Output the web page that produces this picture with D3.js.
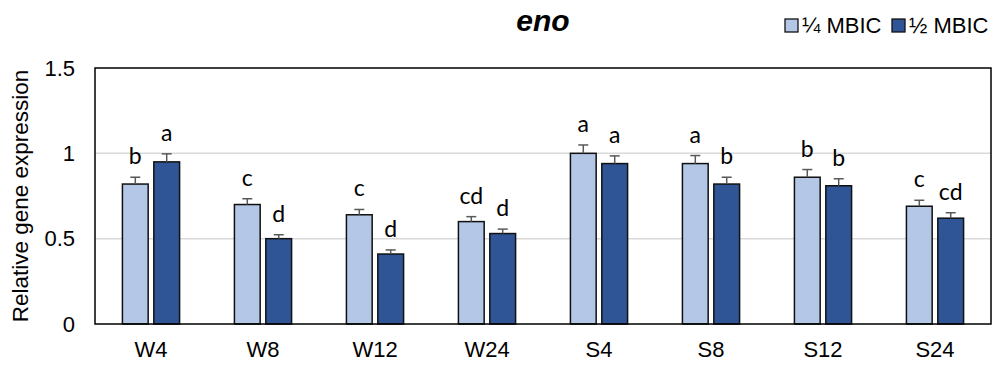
<!DOCTYPE html>
<html>
<head>
<meta charset="utf-8">
<script src="https://cdn.jsdelivr.net/npm/d3@7"></script>
<style>
  html, body { margin: 0; padding: 0; background: #fff; }
  svg { display: block; }
</style>
</head>
<body>
<svg id="chart" width="997" height="365"></svg>
<script>
// Sample groups along the x axis
const categories = ["W4", "W8", "W12", "W24", "S4", "S8", "S12", "S24"];
const seriesNames = ["¼ MBIC", "½ MBIC"];

// Mean relative expression and error for each treatment
const quarterValues = [0.82, 0.70, 0.64, 0.60, 1.00, 0.94, 0.86, 0.69];
const quarterErrors = [0.04, 0.034, 0.031, 0.029, 0.049, 0.047, 0.045, 0.035];
const halfValues = [0.95, 0.50, 0.41, 0.53, 0.94, 0.82, 0.81, 0.62];
const halfErrors = [0.047, 0.023, 0.024, 0.026, 0.045, 0.04, 0.041, 0.032];

// Significance letters
const quarterLetters = ["b", "c", "c", "cd", "a", "a", "b", "c"];
const halfLetters = ["a", "d", "d", "d", "a", "b", "b", "cd"];

const yTicks = [0, 0.5, 1, 1.5];
const yTickLabels = ["0", "0.5", "1", "1.5"];

const colors = ["#b4c7e7", "#2f5597"];

const svg = d3.select("#chart");
const margin = { left: 95, right: 6, top: 68, bottom: 41 };
const W = 997, H = 365;
const plotLeft = margin.left, plotRight = W - margin.right;
const plotTop = margin.top, plotBottom = H - margin.bottom;

const x0 = d3.scaleBand().domain(categories).range([plotLeft, plotRight]);
const x1 = d3.scaleBand().domain(seriesNames).range([0, x0.bandwidth()])
  .paddingInner(0.18).paddingOuter(0.873);
const y = d3.scaleLinear().domain([0, 1.5]).range([plotBottom, plotTop]);

const table = categories.map((c, i) => ({
  cat: c,
  bars: [
    { s: seriesNames[0], v: quarterValues[i], e: quarterErrors[i], l: quarterLetters[i], k: 0 },
    { s: seriesNames[1], v: halfValues[i], e: halfErrors[i], l: halfLetters[i], k: 1 }
  ]
}));

// Gridlines
svg.append("g")
  .selectAll("line")
  .data(yTicks.filter(t => t > 0 && t < 1.5))
  .join("line")
  .attr("x1", plotLeft).attr("x2", plotRight)
  .attr("y1", d => y(d)).attr("y2", d => y(d))
  .attr("stroke", "#d9d9d9").attr("stroke-width", 1.5);

// Y axis tick labels
const yAxis = d3.axisLeft(y).tickValues(yTicks)
  .tickFormat((d, i) => yTickLabels[i]).tickSize(0).tickPadding(20);
svg.append("g")
  .attr("transform", `translate(${plotLeft},0)`)
  .call(yAxis)
  .call(g => g.select(".domain").remove())
  .selectAll("text")
  .attr("font-family", "Liberation Sans, Arial, sans-serif")
  .attr("font-size", 22)
  .attr("fill", "#000");

// X axis category labels
const xAxis = d3.axisBottom(x0).tickSize(0).tickPadding(17);
svg.append("g")
  .attr("transform", `translate(0,${plotBottom})`)
  .call(xAxis)
  .call(g => g.select(".domain").remove())
  .selectAll("text")
  .attr("font-family", "Liberation Sans, Arial, sans-serif")
  .attr("font-size", 22)
  .attr("fill", "#000");

// Bars
const groups = svg.append("g")
  .selectAll("g")
  .data(table)
  .join("g")
  .attr("transform", d => `translate(${x0(d.cat)},0)`);

groups.selectAll("rect")
  .data(d => d.bars)
  .join("rect")
  .attr("x", d => x1(d.s))
  .attr("width", x1.bandwidth())
  .attr("y", d => y(d.v))
  .attr("height", d => y(0) - y(d.v))
  .attr("fill", d => colors[d.k])
  .attr("stroke", "#111")
  .attr("stroke-width", 1.5);

// Error bars
const errG = groups.selectAll("g.err")
  .data(d => d.bars)
  .join("g").attr("class", "err");
errG.append("line")
  .attr("x1", d => x1(d.s) + x1.bandwidth() / 2)
  .attr("x2", d => x1(d.s) + x1.bandwidth() / 2)
  .attr("y1", d => y(d.v))
  .attr("y2", d => y(d.v + d.e))
  .attr("stroke", "#595959").attr("stroke-width", 1.5);
errG.append("line")
  .attr("x1", d => x1(d.s) + x1.bandwidth() / 2 - 5)
  .attr("x2", d => x1(d.s) + x1.bandwidth() / 2 + 5)
  .attr("y1", d => y(d.v + d.e))
  .attr("y2", d => y(d.v + d.e))
  .attr("stroke", "#595959").attr("stroke-width", 1.5);

// Significance letters
groups.selectAll("text.sig")
  .data(d => d.bars)
  .join("text").attr("class", "sig")
  .attr("x", d => x1(d.s) + x1.bandwidth() / 2)
  .attr("y", d => y(d.v + d.e) - 13)
  .attr("text-anchor", "middle")
  .attr("font-family", "Lato, 'Open Sans', sans-serif")
  .attr("font-size", 23)
  .attr("fill", "#000")
  .text(d => d.l);

// Plot frame
svg.append("rect")
  .attr("x", plotLeft).attr("y", plotTop)
  .attr("width", plotRight - plotLeft).attr("height", plotBottom - plotTop)
  .attr("fill", "none").attr("stroke", "#000").attr("stroke-width", 1.5);

// Y axis title
svg.append("text")
  .attr("transform", `translate(28,${(plotTop + plotBottom) / 2}) rotate(-90)`)
  .attr("text-anchor", "middle")
  .attr("font-family", "Liberation Sans, Arial, sans-serif")
  .attr("font-size", 22.5)
  .attr("fill", "#000")
  .text("Relative gene expression");

// Title
svg.append("text")
  .attr("x", 543).attr("y", 31)
  .attr("text-anchor", "middle")
  .attr("font-family", "Liberation Sans, Arial, sans-serif")
  .attr("font-size", 30)
  .attr("font-weight", "bold")
  .attr("font-style", "italic")
  .attr("fill", "#000")
  .text("eno");

// Legend
const legend = svg.append("g");
const legendX = [785, 892];
seriesNames.forEach((name, i) => {
  legend.append("rect")
    .attr("x", legendX[i]).attr("y", 19)
    .attr("width", 13).attr("height", 13)
    .attr("fill", colors[i]).attr("stroke", "#111").attr("stroke-width", 1.3);
  legend.append("text")
    .attr("x", legendX[i] + 17).attr("y", 33)
    .attr("font-family", "Liberation Sans, Arial, sans-serif")
    .attr("font-size", 22)
    .attr("fill", "#000")
    .text(name);
});
</script>
</body>
</html>
